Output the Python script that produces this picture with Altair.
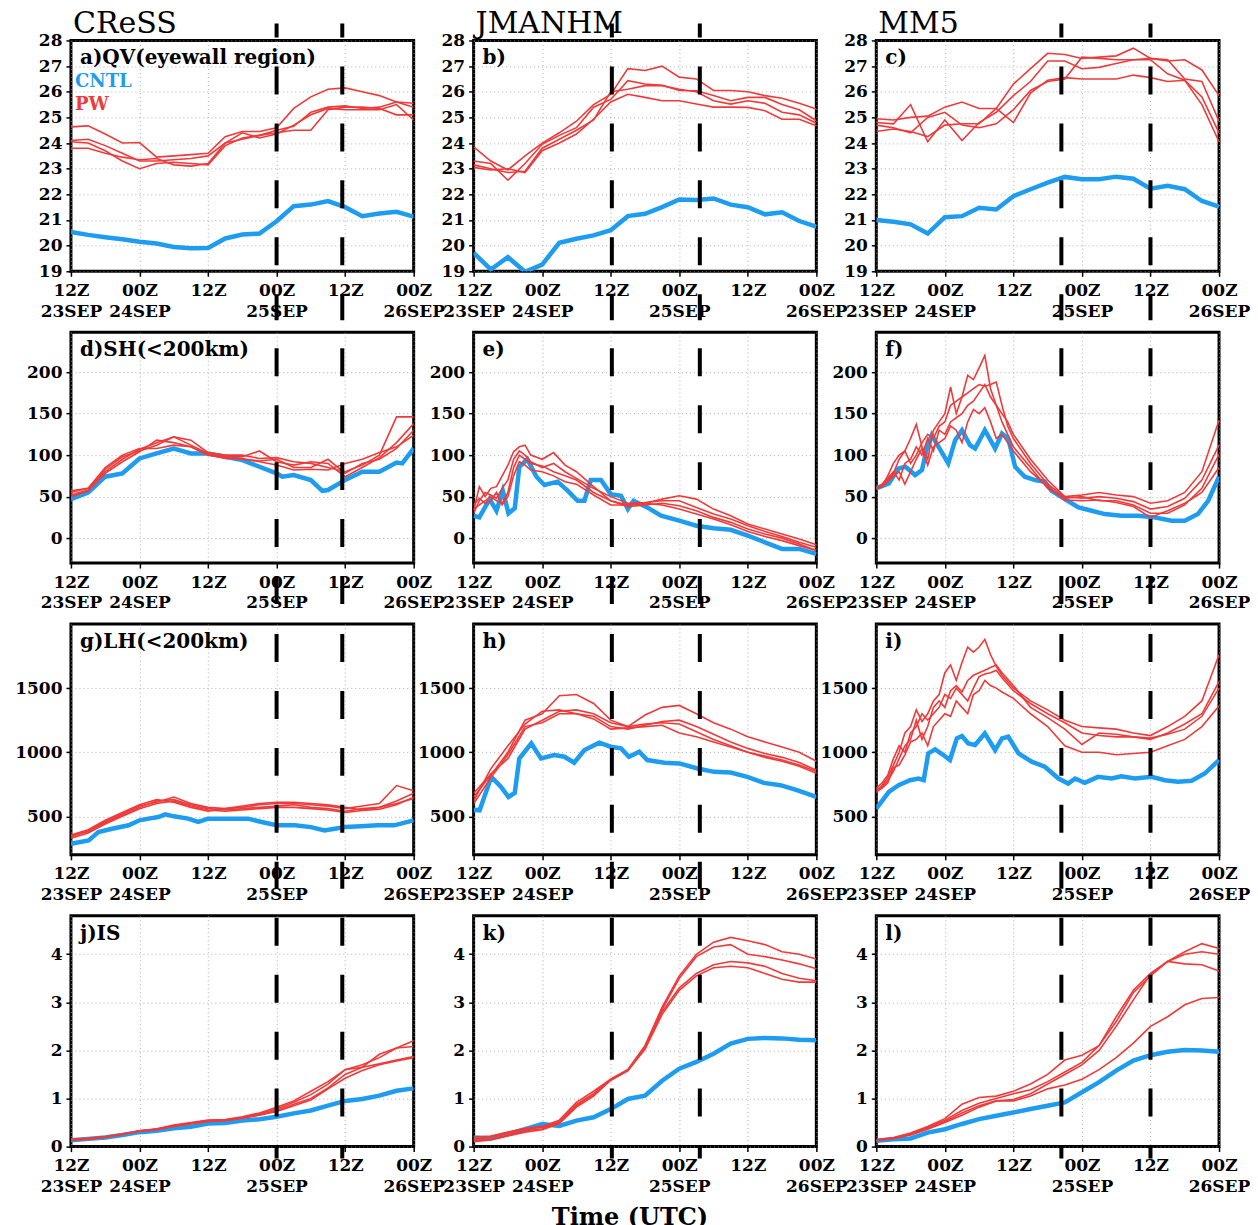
import altair as alt
import pandas as pd

FONT = "DejaVu Serif"
BLUE = "#1E9CF0"
RED = "#F03A3A"

# ---------------- axis / layout data ----------------
TICK_HOURS = [0, 12, 24, 36, 48, 60]
TICK_TIME = ["12Z", "00Z", "12Z", "00Z", "12Z", "00Z"]
TICK_DATE = ["23SEP", "24SEP", "", "25SEP", "", "26SEP"]

MODELS = ["CReSS", "JMANHM", "MM5"]
PANEL_LABELS = ["a)QV(eyewall region)", "b)", "c)",
                "d)SH(<200km)", "e)", "f)",
                "g)LH(<200km)", "h)", "i)",
                "j)IS", "k)", "l)"]
DASH_HOURS = [[36, 47.5], [24.2, 39.6], [32.4, 48.0]]
ROW_DOMAINS = [[19, 28], [-30, 248], [200, 2000], [0, 4.8]]
ROW_TICKS = [list(range(19, 29)), [0, 50, 100, 150, 200], [500, 1000, 1500], [0, 1, 2, 3, 4]]

H3 = list(range(0, 61, 3))

# ---------------- panel a : QV CReSS ----------------
A_CNTL_H = H3
A_CNTL = [20.53, 20.42, 20.33, 20.25, 20.15, 20.08, 19.95, 19.9, 19.91, 20.28, 20.43,
          20.47, 20.95, 21.54, 21.6, 21.74, 21.5, 21.15, 21.25, 21.32, 21.13]
A_PW_H = H3
A_PW = [
    [24.63, 24.67, 24.35, 24.0, 24.02, 23.45, 23.5, 23.55, 23.6, 24.25, 24.45, 24.45, 24.6, 25.35, 25.8, 26.1, 26.15, 26.0, 25.85, 25.6, 25.4],
    [24.1, 24.15, 23.9, 23.6, 23.3, 23.3, 23.35, 23.4, 23.5, 24.0, 24.15, 24.3, 24.5, 24.65, 25.2, 25.4, 25.45, 25.35, 25.4, 25.6, 25.55],
    [24.05, 24.0, 23.7, 23.3, 23.0, 23.2, 23.25, 23.2, 23.15, 23.9, 24.2, 24.3, 24.4, 24.5, 24.5, 25.3, 25.4, 25.4, 25.35, 25.1, 25.1],
    [23.8, 23.8, 23.6, 23.45, 23.35, 23.4, 23.15, 23.1, 23.2, 24.0, 24.4, 24.2, 24.35, 24.7, 25.1, 25.35, 25.3, 25.3, 25.3, 25.5, 24.9],
]

# ---------------- panel b : QV JMANHM ----------------
B_CNTL_H = H3
B_CNTL = [19.72, 19.07, 19.55, 18.98, 19.26, 20.11, 20.27, 20.4, 20.6, 21.15, 21.24,
          21.5, 21.8, 21.78, 21.84, 21.6, 21.5, 21.22, 21.3, 20.96, 20.74]
B_PW_H = H3
B_PW = [
    [23.85, 23.3, 22.95, 23.5, 24.0, 24.4, 24.85, 25.5, 25.9, 26.9, 26.83, 27.0, 26.57, 26.5, 26.05, 26.05, 26.0, 25.85, 25.75, 25.55, 25.33],
    [23.3, 23.2, 22.55, 23.2, 23.95, 24.3, 24.6, 25.4, 25.7, 26.43, 26.3, 26.25, 26.05, 26.04, 25.85, 25.65, 25.78, 25.78, 25.5, 25.3, 24.87],
    [23.15, 23.0, 22.85, 22.9, 23.8, 24.15, 24.5, 24.9, 26.0, 26.1, 26.24, 26.24, 26.1, 26.0, 25.65, 25.52, 25.65, 25.55, 25.2, 25.1, 24.77],
    [23.05, 22.95, 23.0, 22.85, 23.7, 24.0, 24.35, 24.93, 25.6, 25.9, 25.78, 25.65, 25.65, 25.52, 25.4, 25.4, 25.39, 25.26, 24.93, 24.93, 24.67],
]

# ---------------- panel c : QV MM5 ----------------
C_CNTL_H = H3
C_CNTL = [21.0, 20.93, 20.83, 20.47, 21.11, 21.15, 21.48, 21.41, 21.93, 22.2, 22.46,
          22.68, 22.59, 22.59, 22.69, 22.61, 22.22, 22.33, 22.2, 21.74, 21.52]
C_PW_H = H3
C_PW = [
    [24.95, 24.9, 25.0, 25.05, 25.4, 25.6, 25.35, 25.35, 26.3, 26.9, 27.5, 27.45, 27.3, 27.35, 27.4, 27.7, 27.3, 27.2, 27.25, 26.85, 25.85],
    [24.8, 24.75, 25.5, 24.05, 24.9, 24.1, 24.8, 25.2, 25.85, 26.4, 27.2, 27.2, 26.9, 26.95, 27.1, 27.25, 27.3, 27.25, 26.5, 26.4, 24.85],
    [24.7, 24.6, 24.4, 25.0, 25.2, 24.7, 24.6, 24.75, 25.3, 26.05, 26.4, 26.5, 27.35, 27.3, 27.25, 27.25, 27.25, 26.7, 26.45, 25.8, 24.4],
    [24.45, 24.55, 24.45, 24.25, 24.7, 24.75, 24.75, 25.35, 24.8, 25.95, 26.45, 26.55, 26.5, 26.5, 26.5, 26.65, 26.55, 26.4, 26.45, 25.5, 24.05],
]

# ---------------- panel d : SH CReSS ----------------
D_CNTL_H = [0, 3, 6, 9, 12, 15, 18, 21, 24, 27, 30, 33, 36, 37, 39, 42, 44, 45, 48, 51, 54, 57, 58, 60]
D_CNTL = [47, 55, 74, 78, 96, 102, 108, 102, 102, 98, 94, 86, 78, 74, 76, 70, 57, 58, 70, 80, 80, 91, 90, 108]
D_PW_H = H3
D_PW = [
    [55, 60, 80, 95, 107, 115, 122, 118, 103, 100, 100, 96, 97, 92, 90, 85, 80, 88, 100, 146, 146],
    [52, 58, 83, 98, 105, 112, 122, 112, 102, 98, 98, 105, 92, 88, 92, 90, 74, 85, 97, 115, 138],
    [50, 57, 78, 92, 104, 118, 115, 110, 100, 97, 95, 93, 95, 85, 85, 95, 78, 90, 95, 108, 130],
    [57, 60, 85, 100, 108, 108, 112, 110, 101, 96, 96, 92, 88, 82, 83, 82, 90, 95, 103, 110, 124],
]

# ---------------- panel e : SH JMANHM ----------------
E_CNTL_H = [0, 1, 2.8, 4, 5.1, 6.1, 7.2, 8, 9.4, 11, 12.4, 14.7, 16.5, 18.2, 19.4, 20.5, 22.3, 24,
            25.8, 27, 28, 30.4, 32.8, 36, 39, 42, 45, 48, 51, 54, 57, 60]
E_CNTL = [27, 25, 47, 33, 57, 30, 36, 86, 95, 74, 64, 68, 57, 45, 45, 70, 70, 53,
          51, 35, 45, 37, 27, 21, 15, 12, 10, 3, -5, -13, -13, -19]
E_PW_H = [0, 1, 2, 3, 4, 5, 6, 7, 8, 9, 10, 12, 14, 16, 18, 21, 24, 27, 30, 33, 36, 39, 42, 45, 48, 51, 54, 57, 60]
E_PW = [
    [33, 62, 50, 60, 62, 75, 88, 104, 110, 112, 100, 95, 103, 88, 80, 62, 45, 40, 42, 47, 51, 47, 35, 27, 17, 11, 5, -1, -8],
    [30, 45, 55, 52, 48, 60, 70, 95, 105, 100, 92, 85, 90, 80, 72, 60, 50, 42, 43, 45, 45, 37, 29, 23, 15, 8, 2, -5, -11],
    [35, 40, 45, 50, 45, 42, 55, 85, 100, 95, 90, 87, 80, 75, 70, 55, 45, 38, 40, 42, 39, 33, 25, 19, 11, 5, 0, -7, -15],
    [40, 48, 42, 45, 55, 40, 50, 75, 92, 88, 82, 80, 75, 68, 65, 52, 40, 40, 42, 40, 35, 29, 23, 16, 8, 2, -3, -9, -15],
]

# ---------------- panel f : SH MM5 ----------------
F_CNTL_H = [0, 2.2, 3.9, 5.1, 6.8, 8, 8.9, 9.7, 10.9, 12.6, 13.8, 15, 16.4, 17.3, 19, 20.8, 22, 23.1,
            24.3, 26, 27.8, 29.5, 30.7, 33, 35.4, 37.7, 40, 42.9, 45.8, 48.7, 51.7, 54, 56.3, 58.1, 60]
F_CNTL = [60, 66, 84, 86, 76, 82, 110, 124, 110, 90, 118, 130, 112, 108, 130, 108, 126, 120,
          86, 74, 70, 68, 57, 47, 37, 33, 29, 27, 27, 25, 21, 21, 29, 45, 74]
F_PW_H = list(range(0, 25)) + [27, 30, 33, 36, 39, 42, 45, 48, 51, 54, 57, 60]
F_PW = [
    [60, 63, 75, 90, 100, 105, 120, 137, 110, 95, 130, 140, 150, 182, 150, 170, 196, 191, 205, 220, 180, 160, 150, 140, 125,
     95, 70, 50, 52, 55, 52, 50, 42, 45, 55, 80, 142],
    [60, 62, 70, 78, 95, 105, 90, 100, 115, 125, 120, 135, 140, 160, 165, 170, 175, 180, 185, 183, 185, 188, 160, 135, 120,
     90, 65, 50, 48, 50, 48, 44, 35, 38, 48, 70, 112],
    [60, 65, 72, 80, 70, 90, 95, 110, 100, 120, 105, 130, 125, 140, 145, 150, 160, 165, 175, 185, 170, 160, 140, 125, 110,
     85, 60, 48, 50, 45, 45, 40, 30, 30, 40, 60, 101],
    [60, 62, 68, 75, 80, 65, 80, 95, 108, 88, 110, 115, 120, 135, 130, 115, 140, 155, 150, 157, 140, 120, 125, 115, 105,
     80, 62, 46, 45, 46, 43, 38, 25, 33, 42, 55, 85],
]

# ---------------- panel g : LH CReSS ----------------
G_CNTL_H = [0, 3.1, 4.8, 7.2, 10.1, 12, 13.6, 15.3, 16.5, 18, 20.5, 22.3, 24, 27.5, 31, 33.4, 36,
            39.2, 42, 44.4, 48, 50.8, 53.7, 56.6, 60]
G_CNTL = [286, 312, 377, 403, 430, 469, 482, 495, 516, 500, 482, 456, 482, 482, 482, 456, 430,
          430, 416, 390, 416, 422, 430, 430, 469]
G_PW_H = H3
G_PW = [
    [350, 380, 460, 520, 580, 610, 650, 600, 570, 560, 570, 590, 600, 600, 590, 580, 560, 580, 600, 740, 700],
    [340, 385, 450, 510, 570, 620, 630, 590, 560, 550, 560, 570, 580, 590, 570, 560, 540, 560, 570, 620, 680],
    [330, 370, 440, 500, 560, 600, 620, 580, 550, 540, 550, 560, 570, 570, 560, 550, 530, 545, 555, 590, 650],
    [355, 395, 470, 530, 590, 630, 610, 570, 540, 560, 580, 600, 610, 610, 600, 590, 570, 550, 570, 600, 640],
]

# ---------------- panel h : LH JMANHM ----------------
H_CNTL_H = [0, 1.05, 3.1, 4.8, 6.1, 7.2, 8, 10.1, 11.8, 14.1, 15.9, 17.6, 19.4, 22, 24, 25.8, 27.2,
            29, 30.4, 33.4, 36, 39.2, 42.1, 45, 47.9, 50.8, 53.7, 56.6, 60]
H_CNTL = [552, 547, 808, 730, 651, 683, 951, 1069, 952, 978, 965, 918, 1017, 1074, 1043, 1030, 965,
          1004, 939, 918, 913, 873, 847, 842, 808, 761, 743, 704, 651]
H_PW_H = H3
H_PW = [
    [650, 820, 1000, 1250, 1300, 1440, 1450, 1380, 1250, 1200, 1290, 1350, 1365, 1300, 1230, 1180, 1120, 1080, 1040, 1000, 930],
    [620, 870, 1050, 1220, 1320, 1330, 1300, 1280, 1200, 1180, 1210, 1240, 1250, 1200, 1140, 1080, 1030, 990, 960, 920, 860],
    [680, 830, 950, 1180, 1250, 1320, 1330, 1300, 1230, 1200, 1220, 1230, 1220, 1160, 1100, 1050, 1000, 970, 940, 900, 850],
    [600, 800, 980, 1200, 1230, 1300, 1300, 1260, 1180, 1190, 1200, 1210, 1150, 1120, 1080, 1040, 1000, 960, 930, 890, 835],
]

# ---------------- panel i : LH MM5 ----------------
I_CNTL_H = [0, 2.2, 3.9, 5.9, 7.4, 8.3, 9.1, 10.3, 11.5, 12.9, 14.1, 15, 16.1, 17.3, 19, 20.8, 22, 23.1,
            24.9, 27.2, 29.5, 31.9, 33.6, 34.8, 36.5, 38.8, 41.2, 42.9, 45.3, 48.2, 50.5, 52.8, 55.2, 57.5, 60]
I_CNTL = [560, 690, 743, 782, 795, 782, 991, 1022, 986, 939, 1108, 1127, 1069, 1056, 1148, 1017, 1108, 1121,
          991, 926, 887, 795, 756, 795, 761, 808, 795, 813, 795, 808, 782, 769, 777, 834, 939]
I_PW_H = list(range(0, 23)) + [24, 27, 30, 33, 36, 39, 42, 45, 48, 51, 54, 57, 60]
I_PW = [
    [700, 740, 800, 900, 1000, 1150, 1200, 1330, 1240, 1300, 1400, 1450, 1620, 1680, 1560, 1700, 1820, 1780, 1820, 1880, 1760, 1670, 1600,
     1500, 1400, 1330, 1250, 1200, 1190, 1180, 1150, 1130, 1200, 1280, 1400, 1760],
    [710, 730, 780, 850, 950, 1050, 1100, 1250, 1100, 1200, 1350, 1400, 1350, 1480, 1520, 1470, 1560, 1600, 1620, 1640, 1660, 1680, 1620,
     1520, 1350, 1270, 1180, 1060, 1150, 1140, 1120, 1100, 1150, 1220, 1300, 1550],
    [720, 760, 820, 950, 1050, 1000, 1150, 1200, 1300, 1250, 1300, 1350, 1450, 1420, 1500, 1450, 1400, 1500, 1590, 1610, 1620, 1640, 1580,
     1480, 1380, 1300, 1230, 1150, 1130, 1120, 1120, 1110, 1140, 1180, 1280, 1500],
    [690, 720, 760, 880, 900, 980, 1080, 1100, 1150, 1050, 1200, 1250, 1300, 1280, 1400, 1350, 1300, 1450, 1480, 1560, 1520, 1500, 1470,
     1420, 1300, 1200, 1050, 1000, 1000, 980, 990, 1000, 1050, 1100, 1200, 1360],
]

# ---------------- panel j : IS CReSS ----------------
J_CNTL_H = H3
J_CNTL = [0.13, 0.16, 0.19, 0.24, 0.30, 0.33, 0.38, 0.41, 0.48, 0.49, 0.54, 0.57, 0.62, 0.69,
          0.75, 0.85, 0.95, 0.99, 1.06, 1.16, 1.21]
J_PW_H = H3
J_PW = [
    [0.15, 0.17, 0.21, 0.26, 0.33, 0.37, 0.45, 0.5, 0.55, 0.56, 0.62, 0.7, 0.82, 0.95, 1.15, 1.35, 1.6, 1.7, 1.85, 2.05, 2.2],
    [0.14, 0.16, 0.2, 0.25, 0.33, 0.36, 0.44, 0.49, 0.54, 0.55, 0.6, 0.68, 0.78, 0.92, 1.08, 1.3, 1.6, 1.65, 1.92, 2.05, 2.08],
    [0.14, 0.16, 0.2, 0.26, 0.32, 0.36, 0.43, 0.48, 0.53, 0.55, 0.6, 0.66, 0.75, 0.88, 1.0, 1.22, 1.5, 1.65, 1.72, 1.8, 1.87],
    [0.13, 0.15, 0.19, 0.25, 0.32, 0.35, 0.42, 0.47, 0.52, 0.54, 0.59, 0.65, 0.73, 0.85, 0.97, 1.2, 1.42, 1.58, 1.7, 1.78, 1.85],
]

# ---------------- panel k : IS JMANHM ----------------
K_CNTL_H = H3
K_CNTL = [0.19, 0.17, 0.26, 0.36, 0.47, 0.43, 0.54, 0.61, 0.78, 0.99, 1.06, 1.37, 1.62, 1.76,
          1.93, 2.14, 2.24, 2.26, 2.25, 2.22, 2.21]
K_PW_H = H3
K_PW = [
    [0.2, 0.22, 0.3, 0.38, 0.42, 0.55, 0.92, 1.15, 1.4, 1.6, 2.1, 2.9, 3.55, 4.0, 4.25, 4.35, 4.28, 4.2, 4.05, 4.0, 3.9],
    [0.15, 0.2, 0.28, 0.36, 0.4, 0.52, 0.88, 1.1, 1.4, 1.6, 2.08, 2.85, 3.5, 3.95, 4.15, 4.2, 4.0, 3.95, 3.88, 3.8, 3.7],
    [0.12, 0.15, 0.24, 0.33, 0.37, 0.5, 0.85, 1.08, 1.38, 1.58, 2.05, 2.8, 3.3, 3.6, 3.78, 3.85, 3.82, 3.75, 3.6, 3.5, 3.45],
    [0.1, 0.14, 0.22, 0.3, 0.35, 0.48, 0.82, 1.05, 1.38, 1.58, 2.02, 2.75, 3.25, 3.55, 3.72, 3.75, 3.72, 3.6, 3.48, 3.42, 3.42],
]

# ---------------- panel l : IS MM5 ----------------
L_CNTL_H = H3
L_CNTL = [0.12, 0.15, 0.17, 0.29, 0.36, 0.47, 0.57, 0.64, 0.71, 0.78, 0.85, 0.92, 1.13, 1.34,
          1.58, 1.79, 1.9, 1.97, 2.01, 2.0, 1.97]
L_PW_H = H3
L_PW = [
    [0.14, 0.19, 0.28, 0.42, 0.58, 0.88, 1.02, 1.05, 1.15, 1.3, 1.5, 1.8, 1.9, 2.1, 2.6, 3.2, 3.55, 3.85, 4.0, 4.05, 4.0],
    [0.13, 0.18, 0.26, 0.4, 0.55, 0.75, 0.9, 1.0, 1.1, 1.18, 1.35, 1.55, 1.75, 2.1, 2.7, 3.25, 3.6, 3.85, 4.05, 4.22, 4.12],
    [0.13, 0.17, 0.25, 0.38, 0.52, 0.7, 0.85, 0.95, 0.98, 1.1, 1.3, 1.5, 1.7, 2.0, 2.5, 3.05, 3.58, 3.85, 3.8, 3.78, 3.65],
    [0.12, 0.17, 0.24, 0.36, 0.5, 0.65, 0.82, 0.95, 0.95, 1.05, 1.2, 1.28, 1.4, 1.6, 1.85, 2.15, 2.5, 2.7, 2.95, 3.08, 3.1],
]

PANELS = [
    (A_CNTL_H, A_CNTL, A_PW_H, A_PW), (B_CNTL_H, B_CNTL, B_PW_H, B_PW), (C_CNTL_H, C_CNTL, C_PW_H, C_PW),
    (D_CNTL_H, D_CNTL, D_PW_H, D_PW), (E_CNTL_H, E_CNTL, E_PW_H, E_PW), (F_CNTL_H, F_CNTL, F_PW_H, F_PW),
    (G_CNTL_H, G_CNTL, G_PW_H, G_PW), (H_CNTL_H, H_CNTL, H_PW_H, H_PW), (I_CNTL_H, I_CNTL, I_PW_H, I_PW),
    (J_CNTL_H, J_CNTL, J_PW_H, J_PW), (K_CNTL_H, K_CNTL, K_PW_H, K_PW), (L_CNTL_H, L_CNTL, L_PW_H, L_PW),
]

# style (pixel geometry of the dashed marker lines per row: start, end, dash offset)
DASH_SPANS = [(-17, 280, 14), (16, 272, 0), (10, 265, 0), (2, 243, 0)]
W, H = 343, 231

label_expr = ""
for h, t, d in zip(TICK_HOURS, TICK_TIME, TICK_DATE):
    label_expr += f"datum.value == {h} ? ['{t}', '{d}'] : "
label_expr += "''"

GRID = dict(grid=True, gridDash=[1, 3], gridColor="#9a9a9a", gridWidth=1, gridOpacity=0.8)
LAB = dict(labelFont=FONT, labelFontSize=17, labelFontWeight="bold", labelColor="black")


def x_enc():
    return alt.X("hour:Q",
                 scale=alt.Scale(domain=[0, 60], nice=False, zero=False),
                 axis=alt.Axis(values=TICK_HOURS, labelExpr=label_expr, domain=False,
                               tickSize=5, tickWidth=1.5, tickColor="black",
                               labelLineHeight=21, labelPadding=6, labelBaseline="top",
                               labelOverlap=False, labelFlush=False, labelBound=False,
                               title=None, **GRID, **LAB))


def y_enc(row):
    return alt.Y("value:Q",
                 scale=alt.Scale(domain=ROW_DOMAINS[row], nice=False, zero=False),
                 axis=alt.Axis(values=ROW_TICKS[row], format="d", domain=False,
                               tickSize=5, tickWidth=1.5, tickColor="black",
                               labelPadding=4, labelOverlap=False, title=None, **GRID, **LAB))


def text_layer(txt, x, y, size, color="black", align="left", weight="bold"):
    return alt.Chart(pd.DataFrame({"t": [txt]})).mark_text(
        font=FONT, fontSize=size, fontWeight=weight, color=color, align=align,
        baseline="alphabetic", clip=False
    ).encode(text="t:N", x=alt.value(x), y=alt.value(y))


def make_panel(idx):
    row, col = divmod(idx, 3)
    cntl_h, cntl, pw_h, pw = PANELS[idx]
    cdf = pd.DataFrame({"hour": cntl_h, "value": cntl})
    pdf = pd.concat([pd.DataFrame({"hour": pw_h, "value": s, "run": f"PW{k + 1}"})
                     for k, s in enumerate(pw)], ignore_index=True)
    blue = alt.Chart(cdf).mark_line(color=BLUE, strokeWidth=4.5, clip=True).encode(
        x=x_enc(), y=y_enc(row))
    red = alt.Chart(pdf).mark_line(color=RED, strokeWidth=1.6, clip=True).encode(
        x=x_enc(), y=y_enc(row), detail="run:N")
    y0, y1, off = DASH_SPANS[row]
    dash = alt.Chart(pd.DataFrame({"hour": DASH_HOURS[col]})).mark_rule(
        color="black", strokeWidth=4, strokeDash=[28, 29], strokeDashOffset=off, clip=False
    ).encode(x=x_enc(), y=alt.value(y0), y2=alt.value(y1))
    layers = [blue, red, dash, text_layer(PANEL_LABELS[idx], 9, 24, 20)]
    if row == 0:
        layers.append(text_layer(MODELS[col], 2, -7, 30, weight="normal"))
    if idx == 0:
        layers.append(text_layer("CNTL", 4, 47, 18, BLUE))
        layers.append(text_layer("PW", 4, 70, 18, RED))
    if idx == 10:
        layers.append(text_layer("Time (UTC)", W / 2 - 15, H + 78, 24, align="center"))
    return alt.layer(*layers).properties(width=W, height=H)


chart = alt.concat(
    *[make_panel(i) for i in range(12)],
    columns=3, spacing={"row": 61, "column": 60}, bounds="flush"
).configure_view(stroke="black", strokeWidth=3).properties(
    padding={"left": 5, "top": -1, "right": -2, "bottom": 0}
)

chart.save("out.html", embed_options={"renderer": "svg", "actions": False})
